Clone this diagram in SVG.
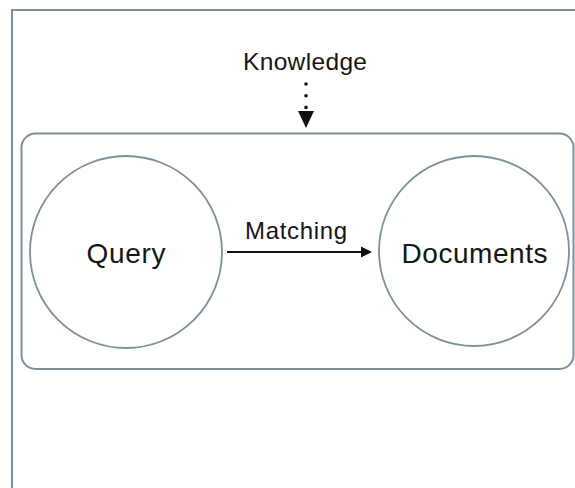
<svg xmlns="http://www.w3.org/2000/svg" width="575" height="488" viewBox="0 0 575 488">
<style>
.frame{fill:none;stroke:#7d9099;stroke-width:2}
.node{fill:#fff;stroke:#7d9099;stroke-width:1.8}
.lbl{font-family:"Liberation Sans",Arial,sans-serif;fill:#151515;text-anchor:middle}
</style>
<rect width="575" height="488" fill="#fff"/>
<g id="frame"><path class="frame" d="M12,490 V10 H577"/></g>
<g id="container"><rect class="frame" x="21.5" y="133.5" width="552" height="235.5" rx="14" ry="14"/></g>
<g id="knowledge"><text class="lbl" x="305" y="70" font-size="24.5" textLength="124" lengthAdjust="spacing">Knowledge</text></g>
<g id="query"><circle class="node" cx="126" cy="252" r="96"/><text class="lbl" x="126" y="263" font-size="28" textLength="79" lengthAdjust="spacing">Query</text></g>
<g id="documents"><circle class="node" cx="474" cy="251" r="95"/><text class="lbl" x="474.5" y="263" font-size="28" textLength="146" lengthAdjust="spacing">Documents</text></g>
<g id="connectors">
<line x1="306" y1="84" x2="306" y2="108" stroke="#111" stroke-width="3.6" stroke-linecap="round" stroke-dasharray="0 11.7"/>
<polygon points="298,111 314,111 306,128" fill="#111"/>
<line x1="227" y1="252" x2="363" y2="252" stroke="#111" stroke-width="2"/>
<polygon points="361,246.5 372,252 361,257.5" fill="#111"/>
<text class="lbl" x="296" y="239" font-size="24" textLength="102" lengthAdjust="spacing">Matching</text>
</g>
</svg>
